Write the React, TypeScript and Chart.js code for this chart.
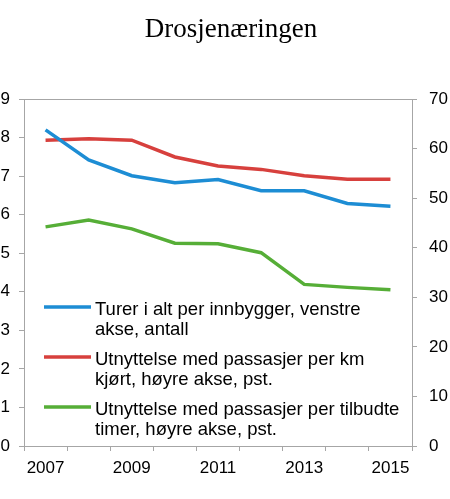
import React, { useEffect, useRef } from "react";
import { Chart, registerables } from "chart.js";

Chart.register(...registerables);

const years = ["2007", "2008", "2009", "2010", "2011", "2012", "2013", "2014", "2015"];
const turerPerInnbygger = [8.2, 7.42, 7.01, 6.83, 6.91, 6.62, 6.62, 6.29, 6.22];
const utnyttelseKm = [61.7, 62.0, 61.7, 58.3, 56.5, 55.8, 54.5, 53.8, 53.8];
const utnyttelseTimer = [44.2, 45.6, 43.8, 40.9, 40.8, 39.0, 32.6, 32.0, 31.5];
const leftTicks = { min: 0, max: 9, step: 1 };
const rightTicks = { min: 0, max: 70, step: 10 };
const title = "Drosjenæringen";
const legendLabels = [
  ["Turer i alt per innbygger, venstre", "akse, antall"],
  ["Utnyttelse med passasjer per km", "kjørt, høyre akse, pst."],
  ["Utnyttelse med passasjer per tilbudte", "timer, høyre akse, pst."],
];

const BLUE = "#1d8dd4";
const RED = "#d7403d";
const GREEN = "#56ae37";
const AXIS = "#a6a6a6";
const SANS = '"Liberation Sans", Arial, Helvetica, sans-serif';
const SERIF = '"Liberation Serif", "Times New Roman", serif';

export default function App() {
  const ref = useRef<HTMLCanvasElement | null>(null);

  useEffect(() => {
    document.body.style.margin = "0";
    const canvas = ref.current;
    if (!canvas) return;
    const colors = [BLUE, RED, GREEN];

    const overlay = {
      id: "overlay",
      afterDraw(chart: any) {
        const ctx = chart.ctx;
        ctx.save();
        ctx.fillStyle = "#000";
        ctx.font = `27px ${SERIF}`;
        ctx.textAlign = "center";
        ctx.textBaseline = "alphabetic";
        ctx.fillText(title, 231, 37);

        ctx.font = `18.5px ${SANS}`;
        ctx.textAlign = "left";
        legendLabels.forEach((lines, i) => {
          const base = 315 + i * 50;
          ctx.strokeStyle = colors[i];
          ctx.lineWidth = 3.5;
          ctx.beginPath();
          ctx.moveTo(44, base - 8);
          ctx.lineTo(91, base - 8);
          ctx.stroke();
          lines.forEach((t, j) => {
            ctx.fillText(t, 95, base + j * 20);
          });
        });
        ctx.restore();
      },
    };

    const chart = new Chart(canvas, {
      type: "line",
      data: {
        labels: years,
        datasets: [
          { label: legendLabels[0].join(" "), data: turerPerInnbygger, yAxisID: "y", borderColor: BLUE, backgroundColor: BLUE },
          { label: legendLabels[1].join(" "), data: utnyttelseKm, yAxisID: "y1", borderColor: RED, backgroundColor: RED },
          { label: legendLabels[2].join(" "), data: utnyttelseTimer, yAxisID: "y1", borderColor: GREEN, backgroundColor: GREEN },
        ],
      },
      options: {
        responsive: false,
        animation: false,
        layout: { padding: { top: 99, left: 0, right: 0, bottom: 0 } },
        elements: {
          line: { borderWidth: 3.5, tension: 0 },
          point: { radius: 0, hoverRadius: 0 },
        },
        plugins: {
          legend: { display: false },
          title: { display: false },
          tooltip: { enabled: false },
        },
        scales: {
          x: {
            type: "category",
            offset: true,
            grid: { offset: true, drawOnChartArea: false, drawTicks: true, tickLength: 5, tickColor: AXIS, color: AXIS },
            border: { display: true, color: AXIS, width: 1 },
            ticks: {
              autoSkip: false,
              maxRotation: 0,
              minRotation: 0,
              padding: 7,
              color: "#000",
              font: { family: SANS, size: 17 },
              callback: (_v: any, i: number) => (i % 2 === 0 ? years[i] : ""),
            },
            afterFit: (s: any) => {
              s.height = 53;
            },
          },
          y: {
            position: "left",
            min: leftTicks.min,
            max: leftTicks.max,
            grid: {
              drawOnChartArea: true,
              drawTicks: true,
              tickLength: 5,
              tickColor: AXIS,
              color: (c: any) => (c.tick && c.tick.value === leftTicks.max ? AXIS : "rgba(0,0,0,0)"),
            },
            border: { display: true, color: AXIS, width: 1 },
            ticks: { stepSize: leftTicks.step, padding: 9, color: "#000", font: { family: SANS, size: 17 } },
            afterFit: (s: any) => {
              s.width = 24;
            },
          },
          y1: {
            position: "right",
            min: rightTicks.min,
            max: rightTicks.max,
            grid: { drawOnChartArea: false, drawTicks: true, tickLength: 5, tickColor: AXIS, color: AXIS },
            border: { display: true, color: AXIS, width: 1 },
            ticks: { stepSize: rightTicks.step, padding: 12, color: "#000", font: { family: SANS, size: 17 } },
            afterFit: (s: any) => {
              s.width = 38;
            },
          },
        },
      },
      plugins: [overlay],
    });

    return () => chart.destroy();
  }, []);

  return (
    <div style={{ width: 450, height: 499, background: "#fff" }}>
      <canvas ref={ref} width={450} height={499} style={{ display: "block", width: 450, height: 499 }} />
    </div>
  );
}
